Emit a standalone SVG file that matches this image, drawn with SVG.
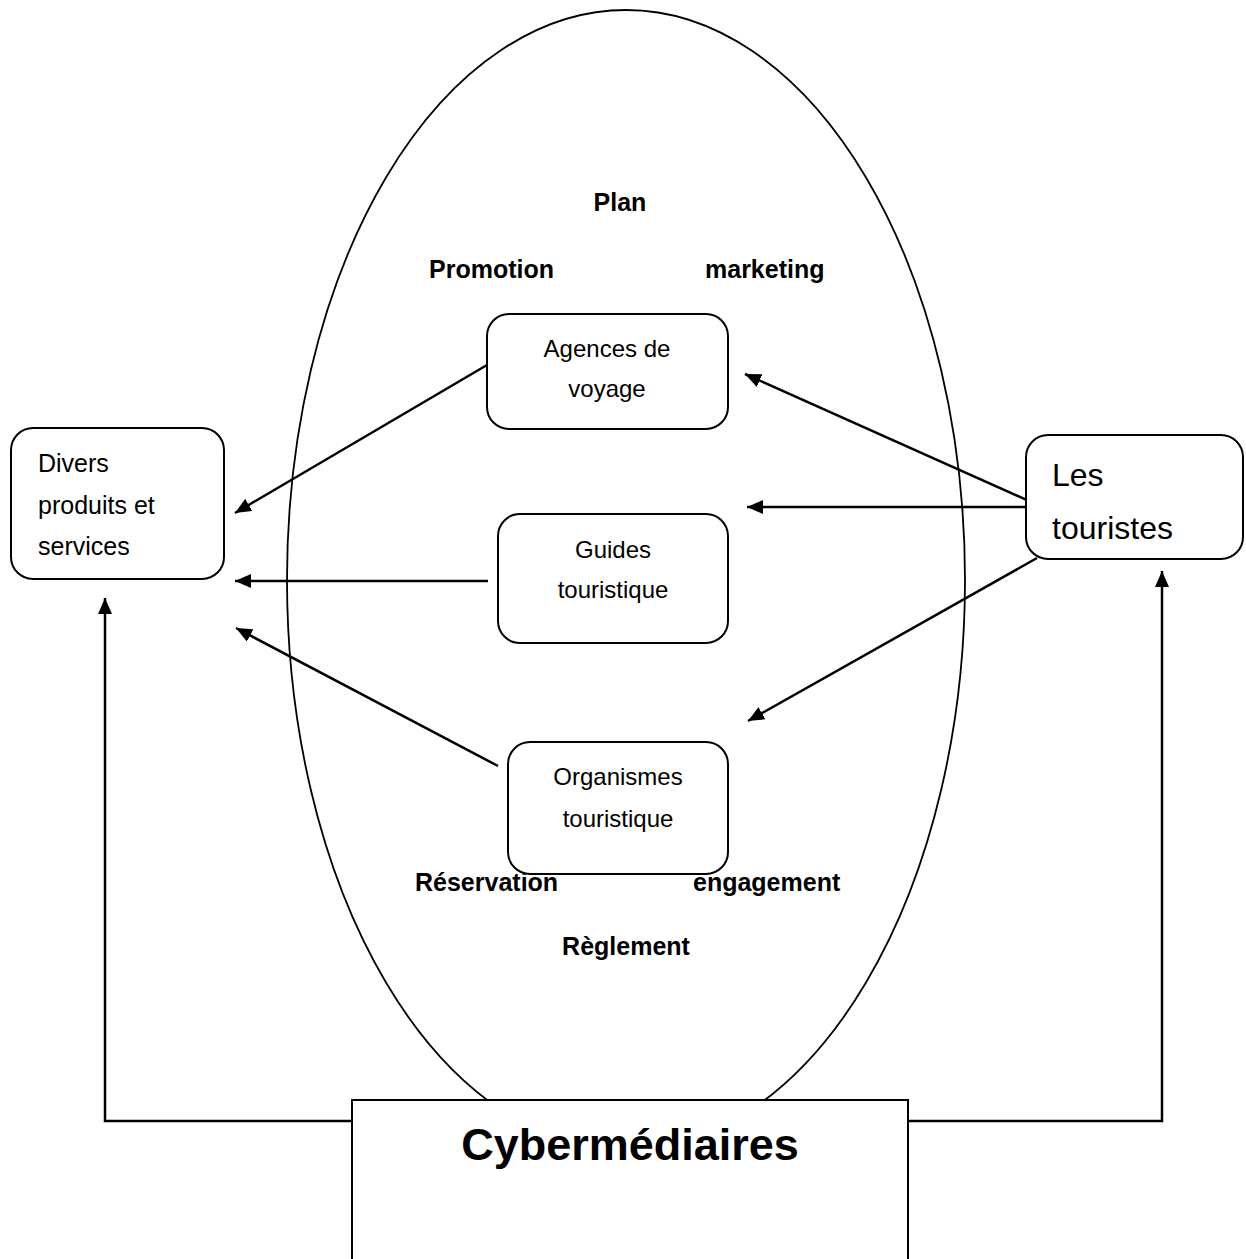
<svg xmlns="http://www.w3.org/2000/svg" width="1246" height="1259" viewBox="0 0 1246 1259">
<style>
  .box { fill: #fff; stroke: #000; stroke-width: 2; }
  .lbl { font-family: "Liberation Sans", Arial, sans-serif; font-size: 24px; fill: #000; }
  .bold { font-family: "Liberation Sans", Arial, sans-serif; font-size: 25px; font-weight: bold; fill: #000; }
  .conn { stroke: #000; stroke-width: 2.5; fill: none; }
</style>
<defs>
  <marker id="ah" markerUnits="userSpaceOnUse" markerWidth="18" markerHeight="16" refX="16" refY="7" orient="auto">
    <path d="M0,0 L16,7 L0,14 Z" fill="#000"/>
  </marker>
</defs>
<rect width="1246" height="1259" fill="#fff"/>

<g id="ellipse">
  <ellipse cx="626" cy="580" rx="339" ry="570" fill="none" stroke="#000" stroke-width="1.8"/>
</g>

<g id="labels">
  <text class="bold" x="620" y="211" text-anchor="middle">Plan</text>
  <text class="bold" x="429" y="278">Promotion</text>
  <text class="bold" x="705" y="278">marketing</text>
  <text class="bold" x="415" y="891">Réservation</text>
  <text class="bold" x="693" y="891">engagement</text>
  <text class="bold" x="626" y="955" text-anchor="middle">Règlement</text>
</g>

<g id="connectors">
  <line class="conn" x1="487" y1="365" x2="235" y2="513" marker-end="url(#ah)"/>
  <line class="conn" x1="488" y1="581" x2="235" y2="581" marker-end="url(#ah)"/>
  <line class="conn" x1="498" y1="766" x2="236" y2="628" marker-end="url(#ah)"/>
  <line class="conn" x1="1049" y1="510" x2="745" y2="374" marker-end="url(#ah)"/>
  <line class="conn" x1="1026" y1="507" x2="747" y2="507" marker-end="url(#ah)"/>
  <line class="conn" x1="1037" y1="558" x2="748" y2="721" marker-end="url(#ah)"/>
  <polyline class="conn" points="352,1121 105,1121 105,598" marker-end="url(#ah)" stroke-width="2"/>
  <polyline class="conn" points="908,1121 1162,1121 1162,571" marker-end="url(#ah)" stroke-width="2"/>
</g>

<g id="agences">
  <rect class="box" x="487" y="314" width="241" height="115" rx="22"/>
  <text class="lbl" x="607" y="357" text-anchor="middle">Agences de</text>
  <text class="lbl" x="607" y="397" text-anchor="middle">voyage</text>
</g>

<g id="guides">
  <rect class="box" x="498" y="514" width="230" height="129" rx="22"/>
  <text class="lbl" x="613" y="558" text-anchor="middle">Guides</text>
  <text class="lbl" x="613" y="598" text-anchor="middle">touristique</text>
</g>

<g id="organismes">
  <rect class="box" x="508" y="742" width="220" height="132" rx="22"/>
  <text class="lbl" x="618" y="785" text-anchor="middle">Organismes</text>
  <text class="lbl" x="618" y="827" text-anchor="middle">touristique</text>
</g>

<g id="divers">
  <rect class="box" x="11" y="428" width="213" height="151" rx="22"/>
  <text class="lbl" x="38" y="472" style="font-size:25px">Divers</text>
  <text class="lbl" x="38" y="514" style="font-size:25px">produits et</text>
  <text class="lbl" x="38" y="555" style="font-size:25px">services</text>
</g>

<g id="touristes">
  <rect class="box" x="1026" y="435" width="217" height="124" rx="22"/>
  <text class="lbl" x="1052" y="486" style="font-size:32px">Les</text>
  <text class="lbl" x="1052" y="539" style="font-size:32px">touristes</text>
</g>

<g id="cybermediaires">
  <rect class="box" x="352" y="1100" width="556" height="170"/>
  <text class="bold" x="630" y="1160" text-anchor="middle" style="font-size:45px">Cybermédiaires</text>
</g>
</svg>
